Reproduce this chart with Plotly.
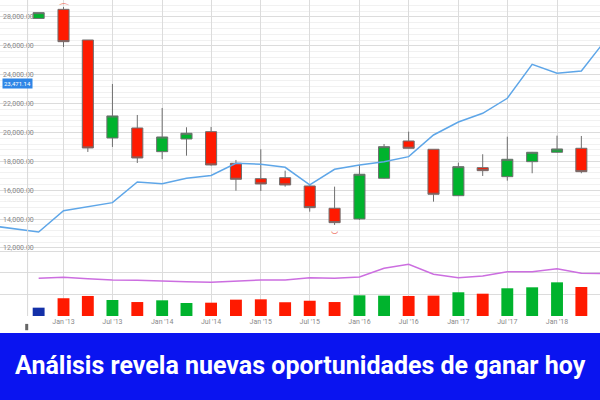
import plotly.graph_objects as go

# ── Data ──────────────────────────────────────────────────────────────────────
quarters = [
    "2012-10-01", "2013-01-01", "2013-04-01", "2013-07-01", "2013-10-01",
    "2014-01-01", "2014-04-01", "2014-07-01", "2014-10-01", "2015-01-01",
    "2015-04-01", "2015-07-01", "2015-10-01", "2016-01-01", "2016-04-01",
    "2016-07-01", "2016-10-01", "2017-01-01", "2017-04-01", "2017-07-01",
    "2017-10-01", "2018-01-01", "2018-04-01",
]
opens = [27900, 28530, 26406, 19618, 20311, 18670, 19549, 20055, 17866, 16800,
         16869, 16294, 14750, 14009, 16827, 19411, 18836, 15622, 17562, 16938,
         17977, 18628, 18905]
highs = [28300, 28690, 26406, 23358, 21211, 21696, 20360, 20381, 18095, 18836,
         17354, 16432, 16246, 17749, 19203, 20055, 18836, 17908, 18490, 19708,
         18650, 19778, 19757]
lows = [27900, 25920, 18650, 18995, 17887, 18150, 18393, 17700, 15969, 15947,
        16246, 14514, 13593, 13940, 16800, 18900, 15207, 15600, 16987, 16661,
        17174, 18600, 17174]
closes = [28300, 26290, 18926, 21142, 18233, 19687, 19944, 17749, 16758, 16433,
          16364, 14791, 13752, 17105, 19016, 18905, 15719, 17631, 17354, 18143,
          18628, 18857, 17284]

line_dates = ["2012-04-01", "2012-07-01"] + quarters + ["2018-07-01"]
line_values = [13558, 13351, 13108, 14583, 14874, 15137, 16571, 16453, 16827,
               17021, 17866, 17797, 17589, 16363, 17451, 17749, 17977, 18323,
               19826, 20727, 21329, 22368, 24723, 24100, 24259, 26441]

volumes = [7.7, 16.4, 18.5, 14.8, 12.9, 14.5, 12.0, 12.3, 15.1, 15.4, 12.7, 14.1,
           12.9, 19.1, 18.8, 18.5, 18.8, 21.9, 20.6, 25.6, 26.5, 31.1, 26.8]
volume_colors = ["#1330a8", "#ff1a00", "#ff1a00", "#00b32d", "#ff1a00", "#00b32d",
                 "#00b32d", "#ff1a00", "#ff1a00", "#ff1a00", "#ff1a00", "#ff1a00",
                 "#ff1a00", "#00b32d", "#00b32d", "#ff1a00", "#ff1a00", "#00b32d",
                 "#ff1a00", "#00b32d", "#00b32d", "#00b32d", "#ff1a00"]

avg_dates = quarters + ["2018-07-01"]
avg_volumes = [34.8, 35.8, 34.5, 33.3, 33.0, 32.6, 31.7, 31.1, 32.3, 33.3, 33.3,
               35.4, 34.8, 36.0, 44.1, 47.8, 38.5, 35.4, 37.0, 40.9, 40.9, 43.7,
               39.5, 39.1]

x_ticks = ["2013-01-01", "2013-07-01", "2014-01-01", "2014-07-01", "2015-01-01",
           "2015-07-01", "2016-01-01", "2016-07-01", "2017-01-01", "2017-07-01",
           "2018-01-01"]

TITLE = "Análisis revela nuevas oportunidades de ganar hoy"
BADGE = "23,471.14"

# ── Figure ────────────────────────────────────────────────────────────────────
fig = go.Figure()

fig.add_trace(go.Scatter(
    x=line_dates, y=line_values, mode="lines",
    line=dict(color="#5ea6e8", width=1.5),
    yaxis="y", showlegend=False, hoverinfo="skip",
))

fig.add_trace(go.Candlestick(
    x=quarters, open=opens, high=highs, low=lows, close=closes,
    increasing=dict(fillcolor="#00b32d", line=dict(color="#6f6f6f", width=1)),
    decreasing=dict(fillcolor="#ff1a00", line=dict(color="#6f6f6f", width=1)),
    whiskerwidth=0, yaxis="y", showlegend=False,
))

fig.add_trace(go.Bar(
    x=quarters, y=volumes, marker_color=volume_colors, marker_line_width=0,
    width=44 * 86400000, yaxis="y2", showlegend=False,
))

fig.add_trace(go.Scatter(
    x=avg_dates, y=avg_volumes, mode="lines",
    line=dict(color="#cc6ee0", width=1.5),
    yaxis="y2", showlegend=False, hoverinfo="skip",
))

# highest-high / lowest-low markers
hi_i = highs.index(max(highs))
lo_i = lows.index(min(lows))
fig.add_annotation(x=quarters[hi_i], y=highs[hi_i], xref="x", yref="y",
                   text="⌒", showarrow=False, yshift=-2,
                   font=dict(size=12, color="#f08070"))
fig.add_annotation(x=quarters[lo_i], y=lows[lo_i], xref="x", yref="y",
                   text="‿", showarrow=False, yshift=-2,
                   font=dict(size=12, color="#f08070"))

# price badge
fig.add_annotation(x=0.003, y=23400, xref="paper", yref="y", xanchor="left",
                   text=BADGE, showarrow=False, bgcolor="#2f86e6",
                   borderpad=1, font=dict(size=6, color="white"))

# bottom banner
fig.add_shape(type="rect", xref="paper", yref="paper",
              x0=0, x1=1, y0=-0.27, y1=-0.054,
              fillcolor="#0a14f0", line_width=0, layer="above")
fig.add_annotation(x=0.5, y=-0.158, xref="paper", yref="paper",
                   xanchor="center", yanchor="middle",
                   text=f"<b>{TITLE}</b>", showarrow=False,
                   font=dict(family="Roboto", size=25, color="white"))

# left divider and small icon
fig.add_shape(type="line", xref="paper", yref="paper", x0=0.046, x1=0.046,
              y0=0, y1=1, line=dict(color="#d8d8d8", width=1))
fig.add_shape(type="rect", xref="paper", yref="paper", x0=0.042, x1=0.047,
              y0=-0.025, y1=-0.045, fillcolor="#666", line_width=0)

fig.update_layout(
    width=600, height=400,
    margin=dict(l=0, r=0, t=0, b=84, autoexpand=False),
    paper_bgcolor="white", plot_bgcolor="white",
    font=dict(family="Roboto", color="#888"),
    boxgap=0.35,
    xaxis=dict(
        type="date", range=["2012-05-11", "2018-06-09"], anchor="y2",
        tickvals=x_ticks, tickformat="%b '%y",
        showgrid=True, gridcolor="#dcdcdc", gridwidth=1,
        tickfont=dict(size=7, color="#888"), ticks="",
        rangeslider=dict(visible=False), zeroline=False, showline=False,
        automargin=False,
    ),
    yaxis=dict(
        domain=[0.209, 1], range=[11861, 29176],
        dtick=2000, tick0=0, tickformat=",.2f",
        ticklabelposition="inside", side="left", ticklabeloverflow="allow",
        tickfont=dict(size=7, color="#888"),
        showgrid=True, gridcolor="#dcdcdc",
        minor=dict(dtick=400, showgrid=True, gridcolor="#f1f1f1"),
        zeroline=False, automargin=False,
    ),
    yaxis2=dict(
        domain=[0, 0.209], range=[0, 61],
        tickvals=[20, 40, 60], showticklabels=False,
        showgrid=True, gridcolor="#dcdcdc", zeroline=False, automargin=False,
    ),
)

fig.write_html("out.html", config={"displayModeBar": False},
               post_script="document.body.style.margin='0';")
